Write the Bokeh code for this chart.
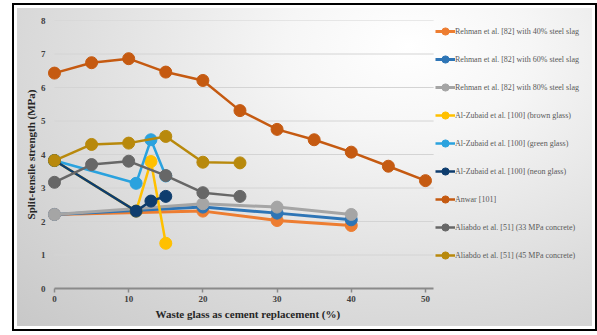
from bokeh.plotting import figure
from bokeh.models import FixedTicker, Legend, LegendItem, Title
from bokeh.embed import file_html
from bokeh.resources import INLINE

# Split-tensile strength (MPa) against waste glass content (%)
rehman40_x = [0, 20, 30, 40]
rehman40_y = [2.21, 2.31, 2.03, 1.88]
rehman60_x = [0, 20, 30, 40]
rehman60_y = [2.21, 2.43, 2.25, 2.05]
rehman80_x = [0, 20, 30, 40]
rehman80_y = [2.21, 2.53, 2.43, 2.21]
brown_x = [0, 11, 13, 15]
brown_y = [3.82, 2.31, 3.79, 1.35]
green_x = [0, 11, 13, 15]
green_y = [3.82, 3.14, 4.44, 3.36]
neon_x = [0, 11, 13, 15]
neon_y = [3.82, 2.31, 2.61, 2.75]
anwar_x = [0, 5, 10, 15, 20, 25, 30, 35, 40, 45, 50]
anwar_y = [6.43, 6.74, 6.86, 6.46, 6.21, 5.31, 4.75, 4.44, 4.07, 3.65, 3.22]
aliabdo33_x = [0, 5, 10, 15, 20, 25]
aliabdo33_y = [3.17, 3.70, 3.80, 3.37, 2.86, 2.75]
aliabdo45_x = [0, 5, 10, 15, 20, 25]
aliabdo45_y = [3.82, 4.30, 4.34, 4.54, 3.77, 3.75]

series_names = [
    "Rehman et al. [82] with 40% steel slag",
    "Rehman et al. [82] with 60% steel slag",
    "Rehman et al. [82] with 80% steel slag",
    "Al-Zubaid et al. [100] (brown glass)",
    "Al-Zubaid et al. [100] (green glass)",
    "Al-Zubaid et al. [100] (neon glass)",
    "Anwar [101]",
    "Aliabdo et al. [51] (33 MPa concrete)",
    "Aliabdo et al. [51] (45 MPa concrete)",
]
series_x = [rehman40_x, rehman60_x, rehman80_x, brown_x, green_x, neon_x,
            anwar_x, aliabdo33_x, aliabdo45_x]
series_y = [rehman40_y, rehman60_y, rehman80_y, brown_y, green_y, neon_y,
            anwar_y, aliabdo33_y, aliabdo45_y]
colors = ["#ED7D31", "#2E75B6", "#A5A5A5", "#FFC000", "#2AA2DE", "#0E3D6E",
          "#C55A11", "#676767", "#B8890C"]
widths = [3, 3, 3, 2.5, 2.5, 2.5, 2.5, 2.5, 2.5]

x_ticks = [0, 10, 20, 30, 40, 50]
y_ticks = [0, 1, 2, 3, 4, 5, 6, 7, 8]

serif = "Liberation Serif"
X_AXIS_END = 51.1     # where the value axis stops; the legend uses the space beyond

# frame starts a little left of zero so the first markers are not clipped
p = figure(
    width=597, height=335,
    x_range=(-0.94, 72.24), y_range=(0, 8),
    output_backend="svg", toolbar_location=None,
    min_border_left=47, min_border_right=7,
    min_border_top=20, min_border_bottom=47,
    background_fill_color=None, border_fill_color=None,
    outline_line_color=None,
)

# framed panel with a soft grey gradient behind the chart
p.styles = {
    "background": (
        "radial-gradient(ellipse farthest-corner at 68% 12%, #ffffff 0%, #f6f6f6 22%, "
        "#dedede 60%, #c8c8c8 100%) 17px 8px / 575px 318px no-repeat, "
        "linear-gradient(#ffffff, #ffffff) 14px 5px / 581px 324px no-repeat, "
        "linear-gradient(#000000, #000000) 12px 3px / 585px 328px no-repeat, "
        "#ffffff"
    )
}

# horizontal gridlines limited to the value axis extent
p.segment(x0=0, x1=X_AXIS_END, y0=y_ticks, y1=y_ticks,
          line_color="#d4d4d4", line_width=1)

items = []
for name, xs, ys, c, w in zip(series_names, series_x, series_y, colors, widths):
    ln = p.line(xs, ys, line_color=c, line_width=w)
    sc = p.scatter(xs, ys, size=12, fill_color=c, line_color=c)
    items.append(LegendItem(label=name, renderers=[ln, sc]))

# axes
p.xaxis.ticker = FixedTicker(ticks=x_ticks)
p.yaxis.ticker = FixedTicker(ticks=y_ticks)
p.xaxis.bounds = (0, X_AXIS_END)
p.yaxis.axis_label = "Split-tensile strength (MPa)"
for ax in (p.xaxis[0], p.yaxis[0]):
    ax.axis_label_text_font = serif
    ax.axis_label_text_font_style = "bold"
    ax.axis_label_text_font_size = "11px"
    ax.axis_label_text_color = "#262626"
    ax.major_label_text_font = serif
    ax.major_label_text_font_style = "bold"
    ax.major_label_text_font_size = "9px"
    ax.major_label_text_color = "#404040"
    ax.minor_tick_line_color = None

p.xaxis.axis_line_color = "#8a8a8a"
p.xaxis.axis_line_width = 2
p.xaxis.major_tick_line_color = "#8a8a8a"
p.xaxis.major_tick_line_width = 1.5
p.xaxis.major_tick_in = 0
p.xaxis.major_tick_out = 4
p.xaxis.major_label_standoff = 3

p.yaxis.axis_line_color = None
p.yaxis.major_tick_line_color = None
p.yaxis.major_label_standoff = -4
p.yaxis.axis_label_standoff = 1

p.xgrid.grid_line_color = None
p.ygrid.grid_line_color = None

# x-axis title centred under the value axis rather than the whole frame
x_title = Title(
    text="Waste glass as cement replacement (%)", align="left", offset=108,
    text_font=serif, text_font_style="bold", text_font_size="11px",
    text_color="#262626", standoff=2,
)
p.add_layout(x_title, "below")

legend = Legend(
    items=items, location=(388, 24),
    margin=0, padding=2, spacing=10,
    glyph_width=20, glyph_height=18, label_height=18,
    label_standoff=0,
    label_text_font=serif, label_text_font_size="8px",
    label_text_color="#595959",
    border_line_color=None, background_fill_alpha=0,
)
p.add_layout(legend)

open("out.html", "w").write(file_html(p, INLINE))
